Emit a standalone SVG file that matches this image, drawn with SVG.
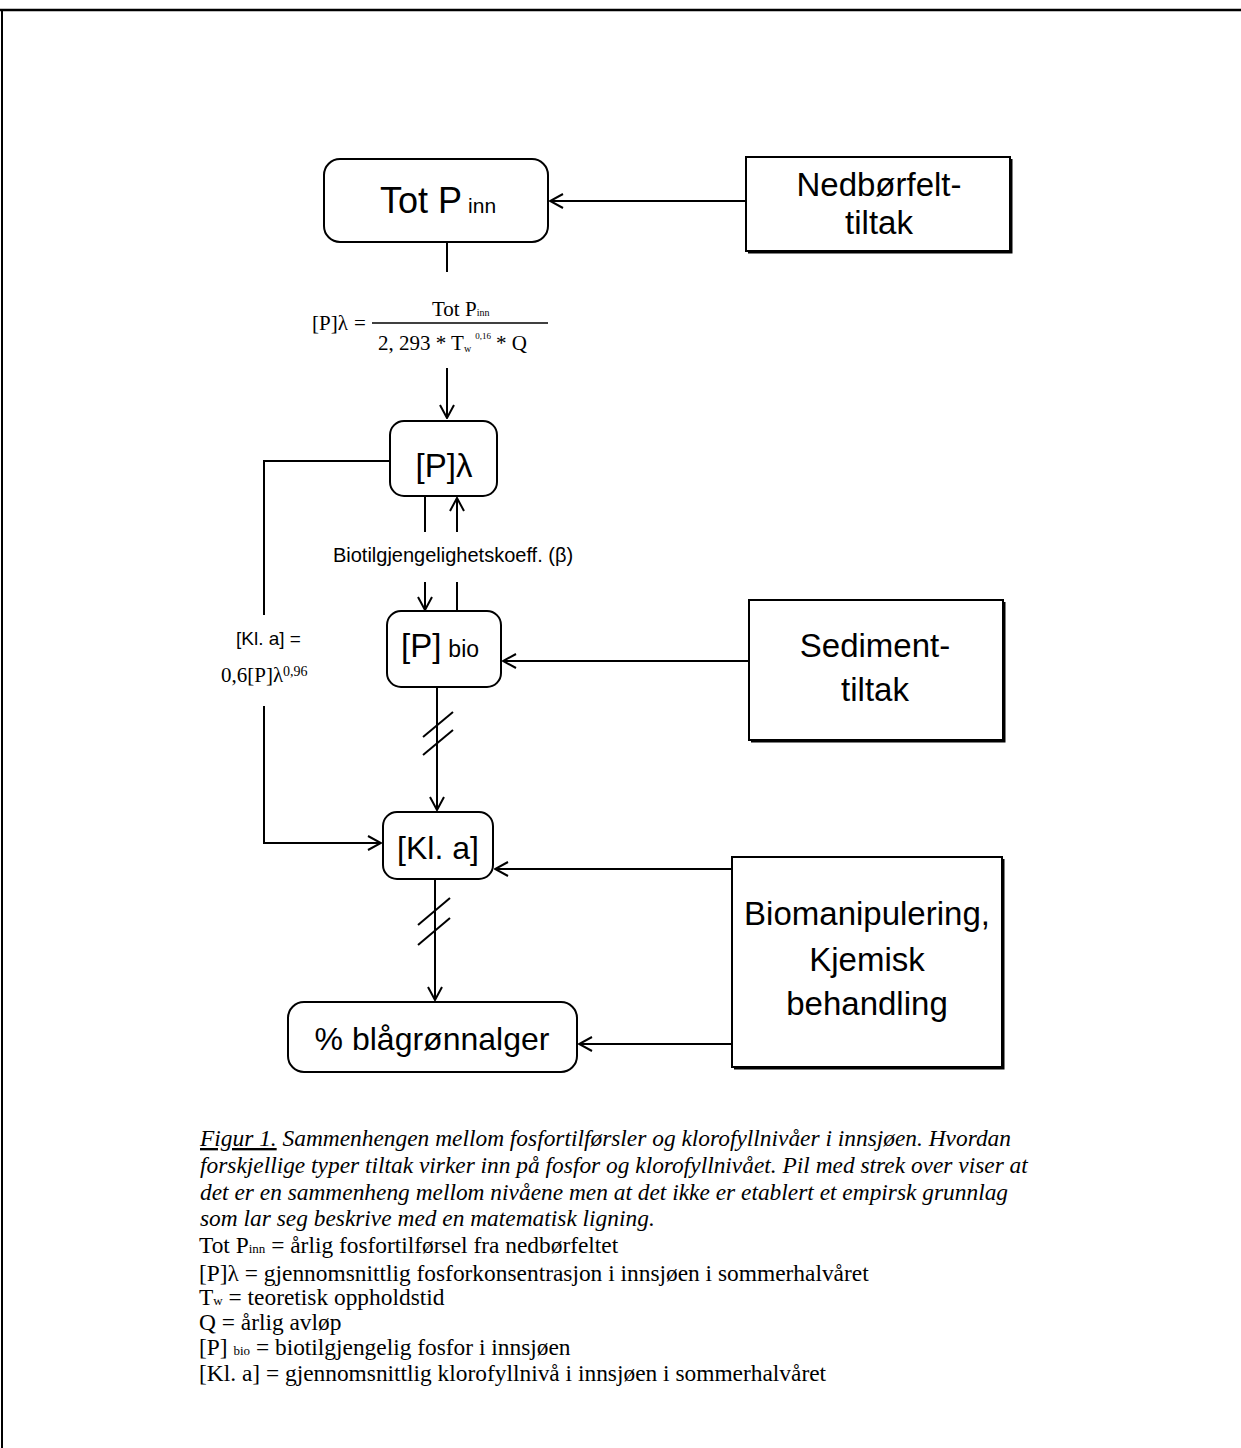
<svg xmlns="http://www.w3.org/2000/svg" width="1241" height="1448" viewBox="0 0 1241 1448">
<style>
.box{fill:#fff;stroke:#000;stroke-width:2}
.shadow{fill:none;stroke:#000;stroke-width:3}
.lbl{font-family:"Liberation Sans",Arial,sans-serif;fill:#000}
.ser{font-family:"Liberation Serif","Times New Roman",serif;fill:#000}
.cap{font-family:"Liberation Serif","Times New Roman",serif;font-style:italic;font-size:23.4px;fill:#000}
.leg{font-family:"Liberation Serif","Times New Roman",serif;font-size:23.4px;fill:#000}
.con{fill:none;stroke:#000;stroke-width:2}
</style>
<defs>
<marker id="arr" markerUnits="userSpaceOnUse" viewBox="0 0 16 16" markerWidth="16" markerHeight="16" refX="15" refY="8" orient="auto">
<path d="M2,1 L15,8 L2,15" fill="none" stroke="#000" stroke-width="2"/>
</marker>
</defs>
<rect width="1241" height="1448" fill="#fff"/>
<g id="frame">
<line x1="0" y1="10" x2="1241" y2="10" stroke="#000" stroke-width="2.5"/>
<line x1="2" y1="9" x2="2" y2="1448" stroke="#000" stroke-width="2"/>
</g>
<g id="connectors">
<line class="con" x1="746" y1="201" x2="550" y2="201" marker-end="url(#arr)"/>
<line class="con" x1="447" y1="242" x2="447" y2="272"/>
<line class="con" x1="447" y1="368" x2="447" y2="418" marker-end="url(#arr)"/>
<polyline class="con" points="390,461 264,461 264,615"/>
<polyline class="con" points="264,706 264,843 381,843" marker-end="url(#arr)"/>
<line class="con" x1="425" y1="497" x2="425" y2="532"/>
<line class="con" x1="457" y1="532" x2="457" y2="498" marker-end="url(#arr)"/>
<line class="con" x1="425" y1="582" x2="425" y2="610" marker-end="url(#arr)"/>
<line class="con" x1="457" y1="582" x2="457" y2="612"/>
<line class="con" x1="749" y1="661" x2="503" y2="661" marker-end="url(#arr)"/>
<line class="con" x1="437" y1="687" x2="437" y2="810" marker-end="url(#arr)"/>
<line class="con" x1="423" y1="737" x2="453" y2="712"/>
<line class="con" x1="423" y1="755" x2="453" y2="730"/>
<line class="con" x1="732" y1="869" x2="495" y2="869" marker-end="url(#arr)"/>
<line class="con" x1="435" y1="879" x2="435" y2="1000" marker-end="url(#arr)"/>
<line class="con" x1="418" y1="925" x2="450" y2="898"/>
<line class="con" x1="418" y1="945" x2="450" y2="918"/>
<line class="con" x1="732" y1="1044" x2="579" y2="1044" marker-end="url(#arr)"/>
</g>
<g id="totp">
<rect class="box" x="324" y="159" width="224" height="83" rx="16"/>
<text class="lbl" x="380" y="213" font-size="36">Tot P<tspan font-size="21" dx="6">inn</tspan></text>
</g>
<g id="nedborfelt">
<rect class="box" x="746" y="157" width="264" height="94"/>
<polyline class="shadow" points="1011,159 1011,252 748,252"/>
<text class="lbl" x="879" y="196" font-size="33" text-anchor="middle">Nedbørfelt-</text>
<text class="lbl" x="879" y="234" font-size="33" text-anchor="middle">tiltak</text>
</g>
<g id="formula">
<text class="ser" x="312" y="330" font-size="21">[P]λ</text>
<text class="ser" x="354" y="330" font-size="21">=</text>
<line x1="372" y1="323" x2="548" y2="323" stroke="#000" stroke-width="1.5"/>
<text class="ser" x="432" y="316" font-size="21">Tot P<tspan font-size="10">inn</tspan></text>
<text class="ser" x="378" y="350" font-size="21">2, 293 * T<tspan font-size="10" dy="2">w</tspan><tspan font-size="9" dy="-13" dx="4">0,16</tspan><tspan dy="11" dx="5">* Q</tspan></text>
</g>
<g id="plambda">
<rect class="box" x="390" y="421" width="107" height="75" rx="14"/>
<text class="lbl" x="444" y="477" font-size="33" text-anchor="middle">[P]λ</text>
</g>
<g id="bio-label">
<text class="lbl" x="453" y="562" font-size="20" text-anchor="middle">Biotilgjengelighetskoeff. (β)</text>
</g>
<g id="kla-label">
<text class="lbl" x="236" y="645" font-size="19">[Kl. a] =</text>
<text class="ser" x="221" y="682" font-size="21">0,6[P]λ<tspan font-size="14" dy="-6">0,96</tspan></text>
</g>
<g id="pbio">
<rect class="box" x="387" y="611" width="114" height="76" rx="14"/>
<text class="lbl" x="401" y="657" font-size="33">[P]<tspan font-size="23" dx="7">bio</tspan></text>
</g>
<g id="sediment">
<rect class="box" x="749" y="600" width="254" height="140"/>
<polyline class="shadow" points="1004,602 1004,741 751,741"/>
<text class="lbl" x="875" y="657" font-size="33" text-anchor="middle">Sediment-</text>
<text class="lbl" x="875" y="701" font-size="33" text-anchor="middle">tiltak</text>
</g>
<g id="kla">
<rect class="box" x="383" y="812" width="110" height="67" rx="14"/>
<text class="lbl" x="438" y="859" font-size="32" text-anchor="middle">[Kl. a]</text>
</g>
<g id="biomanip">
<rect class="box" x="732" y="857" width="270" height="210"/>
<polyline class="shadow" points="1003,859 1003,1068 734,1068"/>
<text class="lbl" x="867" y="925" font-size="33" text-anchor="middle">Biomanipulering,</text>
<text class="lbl" x="867" y="971" font-size="33" text-anchor="middle">Kjemisk</text>
<text class="lbl" x="867" y="1015" font-size="33" text-anchor="middle">behandling</text>
</g>
<g id="blagronn">
<rect class="box" x="288" y="1002" width="289" height="70" rx="16"/>
<text class="lbl" x="432" y="1050" font-size="32" text-anchor="middle">% blågrønnalger</text>
</g>
<g id="caption">
<text class="cap" x="200" y="1146"><tspan text-decoration="underline">Figur 1.</tspan> Sammenhengen mellom fosfortilførsler og klorofyllnivåer i innsjøen. Hvordan</text>
<text class="cap" x="200" y="1173">forskjellige typer tiltak virker inn på fosfor og klorofyllnivået. Pil med strek over viser at</text>
<text class="cap" x="200" y="1200">det er en sammenheng mellom nivåene men at det ikke er etablert et empirsk grunnlag</text>
<text class="cap" x="200" y="1226">som lar seg beskrive med en matematisk ligning.</text>
</g>
<g id="legend">
<text class="leg" x="199" y="1253">Tot P<tspan font-size="13">inn</tspan> = årlig fosfortilførsel fra nedbørfeltet</text>
<text class="leg" x="199" y="1281">[P]λ = gjennomsnittlig fosforkonsentrasjon i innsjøen i sommerhalvåret</text>
<text class="leg" x="199" y="1305">T<tspan font-size="13">w</tspan> = teoretisk oppholdstid</text>
<text class="leg" x="199" y="1330">Q = årlig avløp</text>
<text class="leg" x="199" y="1355">[P] <tspan font-size="13">bio</tspan> = biotilgjengelig fosfor i innsjøen</text>
<text class="leg" x="199" y="1381">[Kl. a] = gjennomsnittlig klorofyllnivå i innsjøen i sommerhalvåret</text>
</g>
</svg>
